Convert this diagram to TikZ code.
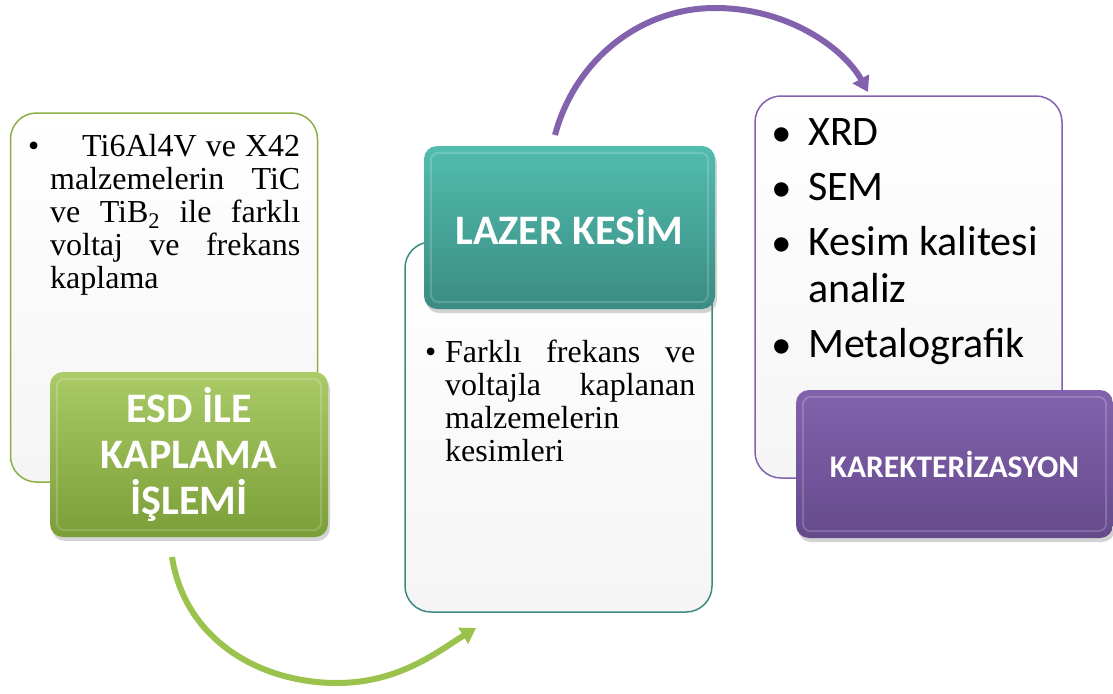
\documentclass[tikz,border=0pt]{standalone}
\usepackage{fontspec}
\setmainfont{Liberation Serif}
\newfontfamily\calibri{Carlito}
\newfontfamily\arialf{Liberation Sans}
\usepackage{tikz}
\usetikzlibrary{arrows.meta, shadows}

\definecolor{esdgreen}{HTML}{9BC24C}
\definecolor{esdgreendk}{HTML}{7A9E38}
\definecolor{lazerteal}{HTML}{52BCAE}
\definecolor{lazertealdk}{HTML}{3A8C82}
\definecolor{karpurple}{HTML}{8362AD}
\definecolor{karpurpledk}{HTML}{654A8C}

\newcommand{\rbul}{\makebox[26pt][l]{\hspace*{-10pt}\raisebox{-7pt}{\arialf\fontsize{53}{53}\selectfont\textbullet}}}

\begin{document}
\begin{tikzpicture}[x=1pt, y=-1pt,
    textbox/.style={draw, line width=1.5pt, rounded corners=26pt, top color=white,
        bottom color=black!4, minimum width=307pt, inner sep=0pt},
    headbox/.style={rounded corners=13pt, inner sep=0pt, text=white,
        font=\calibri\bfseries\fontsize{42}{46}\selectfont, align=center,
        drop shadow={opacity=0.35, shadow xshift=2pt, shadow yshift=-4pt}},
    bevel/.style={draw=white, draw opacity=0.18, line width=2pt, rounded corners=8pt},
    bodytext/.style={inner sep=0pt, anchor=base west, align=justify,
        text width=250pt, font=\fontsize{32}{33}\selectfont},
    bullet/.style={inner sep=0pt, anchor=base west, font=\fontsize{32}{33}\selectfont},
    flowarrow/.style={line width=6pt, -{Triangle[width=18pt, length=15pt]}}]
        \useasboundingbox (0,0) rectangle (1113,693);

        % First step
        \node[textbox, draw=esdgreen!90!black, minimum height=369pt] (esdbox) at (164,297.5) {};
        \node[bullet] (esdbul) at (28,156) {\textbullet};
        \node[bodytext] (esdtext) at (50,156)
            {\hspace*{32pt}Ti6Al4V ve X42\linebreak malzemelerin TiC\linebreak
             ve TiB\textsubscript{2} ile farklı\linebreak voltaj ve frekans\linebreak kaplama};
        \node[headbox, top color=esdgreen!85!white, bottom color=esdgreendk,
            minimum width=278pt, minimum height=165pt] (esdhead) at (189,454.5)
            {ESD İLE\\KAPLAMA\\İŞLEMİ};

        % Second step
        \node[textbox, draw=lazertealdk, minimum height=370pt] (lazerbox) at (558.5,427) {};
        \node[headbox, top color=lazerteal, bottom color=lazertealdk,
            minimum width=291pt, minimum height=163pt] (lazerhead) at (569.5,227.5)
            {LAZER KESİM};
        \node[bullet] (lazerbul) at (425,362) {\textbullet};
        \node[bodytext] (lazertext) at (445,362)
            {Farklı frekans ve\linebreak voltajla kaplanan\linebreak malzemelerin\\ kesimleri};

        % Third step
        \node[textbox, draw=karpurple, minimum height=382pt] (karbox) at (908.5,287) {};
        \node[inner sep=0pt, anchor=base west, align=left,
            font=\calibri\fontsize{42}{47}\selectfont] (kartext) at (782,357)
            {\rbul XRD\\[8pt]\rbul SEM\\[8pt]\rbul Kesim kalitesi\\\hspace*{26pt}analiz\\[8pt]\rbul Metalografik};
        \node[headbox, top color=karpurple, bottom color=karpurpledk,
            font=\calibri\bfseries\fontsize{31.5}{36}\selectfont,
            minimum width=317pt, minimum height=148pt] (karhead) at (954.5,464)
            {KAREKTERİZASYON};

        % light inner edge of the headers
        \foreach \h in {esdhead, lazerhead, karhead}
            \draw[bevel] ([shift={(7,7)}]\h.north west) rectangle ([shift={(-7,-7)}]\h.south east);

        % Arrows between the steps
        \coordinate (ga1) at (172,557);
        \coordinate (ga2) at (476,628);
        \coordinate (pa1) at (555,135);
        \coordinate (pa2) at (868,92);
        \draw[flowarrow, esdgreen] (ga1) .. controls (185,640) and (260,683) .. (337,683)
            .. controls (400,683) and (440,650) .. (ga2);
        \draw[flowarrow, karpurple] (pa1) .. controls (575,60) and (640,8) .. (715,8)
            .. controls (790,8) and (845,50) .. (pa2);
\end{tikzpicture}
\end{document}
